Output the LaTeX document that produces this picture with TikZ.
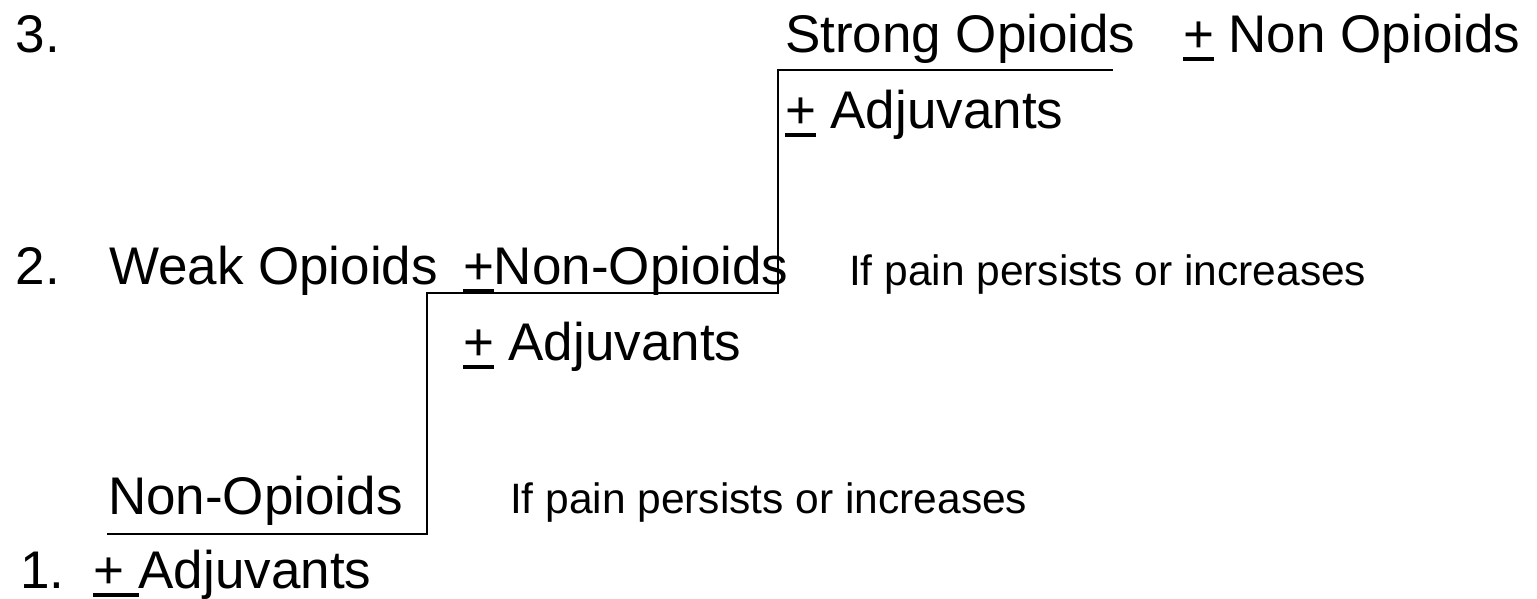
\documentclass[tikz,border=0pt]{standalone}
\usepackage{fontspec}
\setmainfont{Liberation Sans}
\newcommand\ulplus{\setbox0\hbox{+}\rlap{\rule[-9pt]{\wd0}{4pt}}\box0}
\newcommand\ulplussp{\setbox0\hbox{+ }\rlap{\rule[-9pt]{\wd0}{4pt}}\box0}
\tikzset{
  big/.style={font=\fontsize{53}{60}\selectfont, inner sep=0pt, outer sep=0pt, anchor=base west},
  small/.style={font=\fontsize{42.5}{50}\selectfont, inner sep=0pt, outer sep=0pt, anchor=base west},
  stair/.style={line width=2pt, line join=miter}
}
\begin{document}
\begin{tikzpicture}[x=1pt,y=-1pt]
\useasboundingbox[fill=white] (0,0) rectangle (1537,598);
% step 3
\node[big] (n3) at (16,52) {3.};
\node[big] (strong) at (785,52) {Strong Opioids};
\node[big] (nonop3) at (1183,52) {\ulplus\ Non Opioids};
\node[big] (adj3) at (785,128) {\ulplus\ Adjuvants};
% step 2
\node[big] (n2) at (16,284) {2.};
\node[big] (weak) at (109,284) {Weak Opioids};
\node[big] (nonop2) at (463,284) {\ulplus Non-Opioids};
\node[small] (persist2) at (849,285) {If pain persists or increases};
\node[big] (adj2) at (463,360) {\ulplus\ Adjuvants};
% step 1
\node[big] (nonop1) at (108,514) {Non-Opioids};
\node[small] (persist1) at (510,513) {If pain persists or increases};
\node[big] (n1) at (20,588) {1.};
\node[big] (adj1) at (93,588) {\ulplussp Adjuvants};
% staircase
\coordinate (s0) at (107,534);
\coordinate (s1) at (427,534);
\coordinate (s2) at (427,293);
\coordinate (s3) at (778,293);
\coordinate (s4) at (778,70);
\coordinate (s5) at (1113,70);
\draw[stair] (s0) -- (s1) -- (s2) -- (s3) -- (s4) -- (s5);
\end{tikzpicture}
\end{document}
